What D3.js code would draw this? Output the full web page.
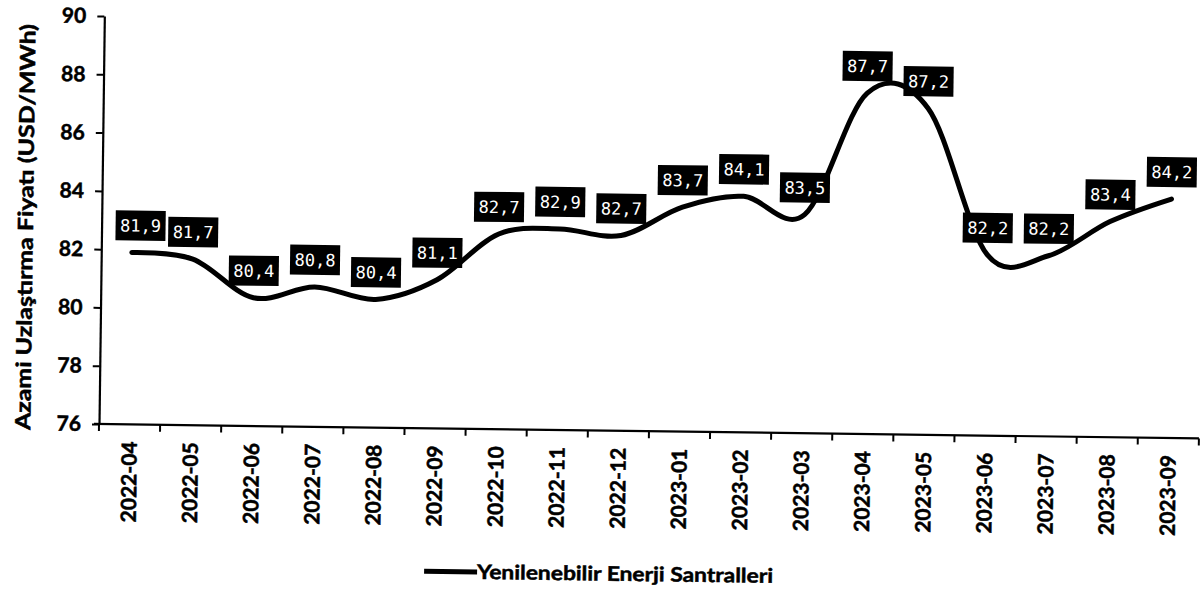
<!DOCTYPE html>
<html>
<head>
<meta charset="utf-8">
<script src="https://cdn.jsdelivr.net/npm/d3@7"></script>
<style>
  html, body { margin: 0; padding: 0; background: #fff; }
  svg { display: block; }
</style>
</head>
<body>
<svg id="chart" width="1203" height="591"></svg>
<script>
// Monthly maximum settlement price for renewable power plants
const months = ["2022-04","2022-05","2022-06","2022-07","2022-08","2022-09","2022-10","2022-11","2022-12",
                "2023-01","2023-02","2023-03","2023-04","2023-05","2023-06","2023-07","2023-08","2023-09"];
const prices = [81.9, 81.7, 80.4, 80.8, 80.4, 81.1, 82.7, 82.9, 82.7,
                83.7, 84.1, 83.5, 87.7, 87.2, 82.2, 82.2, 83.4, 84.2];
const yTicks = [76, 78, 80, 82, 84, 86, 88, 90];
const seriesName = "Yenilenebilir Enerji Santralleri";
const yTitle = "Azami Uzlaştırma Fiyatı (USD/MWh)";

const svg = d3.select("#chart");
const plotLeft = 99, plotBottom = 424, plotTop = 16, plotRight = 1199;

// whole drawing sits at a slight clockwise angle
const g = svg.append("g").attr("transform", `rotate(0.75 ${plotLeft} ${plotBottom})`);

const x = d3.scaleBand().domain(months).range([plotLeft, plotRight]).padding(0);
const y = d3.scaleLinear().domain([76, 90]).range([plotBottom, plotTop]);
const cx = d => x(d) + x.bandwidth() / 2;

const boldFont = "Lato, 'Open Sans', sans-serif";
const heavy = sel => sel
  .attr("fill", "#000").attr("stroke", "#000").attr("stroke-width", 0.5)
  .style("font-family", boldFont).style("font-weight", "700");

// y axis
const yAxis = g.append("g")
  .attr("transform", `translate(${plotLeft},0)`)
  .call(d3.axisLeft(y).tickValues(yTicks).tickSize(7).tickPadding(11).tickSizeOuter(0));
yAxis.select(".domain").attr("stroke", "#000").attr("stroke-width", 2.2);
yAxis.selectAll(".tick line").attr("stroke", "#000").attr("stroke-width", 2);
yAxis.selectAll(".tick text").call(heavy).style("font-size", "21px");

// x axis with tick marks on the category boundaries
const xAxis = g.append("g")
  .attr("transform", `translate(0,${plotBottom})`)
  .call(d3.axisBottom(x).tickSize(0).tickSizeOuter(0));
xAxis.select(".domain").attr("stroke", "#000").attr("stroke-width", 2.2)
  .attr("d", `M${plotLeft - 5},0H${plotRight}`);
xAxis.selectAll(".tick text")
  .call(heavy).style("font-size", "21px")
  .attr("transform", "rotate(-90)")
  .attr("text-anchor", "end")
  .attr("x", -17).attr("y", 0).attr("dy", "0.36em");
xAxis.selectAll(".boundary")
  .data(months.map(m => x(m)).concat([plotRight]))
  .join("line")
  .attr("class", "boundary")
  .attr("x1", d => d).attr("x2", d => d)
  .attr("y1", 0).attr("y2", 7)
  .attr("stroke", "#000").attr("stroke-width", 2);

// y axis title
g.append("text")
  .attr("transform", `translate(23,${(plotTop + plotBottom) / 2 + 8}) rotate(-90)`)
  .attr("text-anchor", "middle")
  .attr("dy", "0.35em")
  .attr("textLength", 406).attr("lengthAdjust", "spacingAndGlyphs")
  .call(heavy).style("font-size", "21px")
  .text(yTitle);

// smoothed price line
const line = d3.line()
  .x(d => cx(d.m))
  .y(d => y(d.v))
  .curve(d3.curveCardinal.tension(0));
const pts = months.map((m, i) => ({ m, v: prices[i] }));
g.append("path")
  .datum(pts)
  .attr("d", line)
  .attr("fill", "none")
  .attr("stroke", "#000")
  .attr("stroke-width", 5)
  .attr("stroke-linejoin", "round")
  .attr("stroke-linecap", "round");

// value labels: white text on black boxes above each point
const boxW = 50, boxH = 30;
const fmt = v => v.toFixed(1).replace(".", ",");
const labels = g.append("g").selectAll("g")
  .data(pts)
  .join("g")
  .attr("transform", d => {
    const lx = Math.max(cx(d.m), plotLeft + 14 + boxW / 2);
    return `translate(${lx},${y(d.v) - 27})`;
  });
labels.append("rect")
  .attr("x", -boxW / 2).attr("y", -boxH / 2)
  .attr("width", boxW).attr("height", boxH)
  .attr("fill", "#000");
labels.append("text")
  .attr("text-anchor", "middle")
  .attr("dy", "0.36em")
  .style("font-family", "'DejaVu Sans Mono', monospace")
  .style("font-size", "17px")
  .attr("fill", "#fff")
  .text(d => fmt(d.v));

// legend
const legend = g.append("g").attr("transform", "translate(0,567)");
legend.append("line")
  .attr("x1", 426).attr("x2", 479).attr("y1", 0).attr("y2", 0)
  .attr("stroke", "#000").attr("stroke-width", 5);
legend.append("text")
  .attr("x", 479).attr("dy", "0.35em")
  .attr("textLength", 296).attr("lengthAdjust", "spacingAndGlyphs")
  .call(heavy).style("font-size", "20px")
  .text(seriesName);
</script>
</body>
</html>
